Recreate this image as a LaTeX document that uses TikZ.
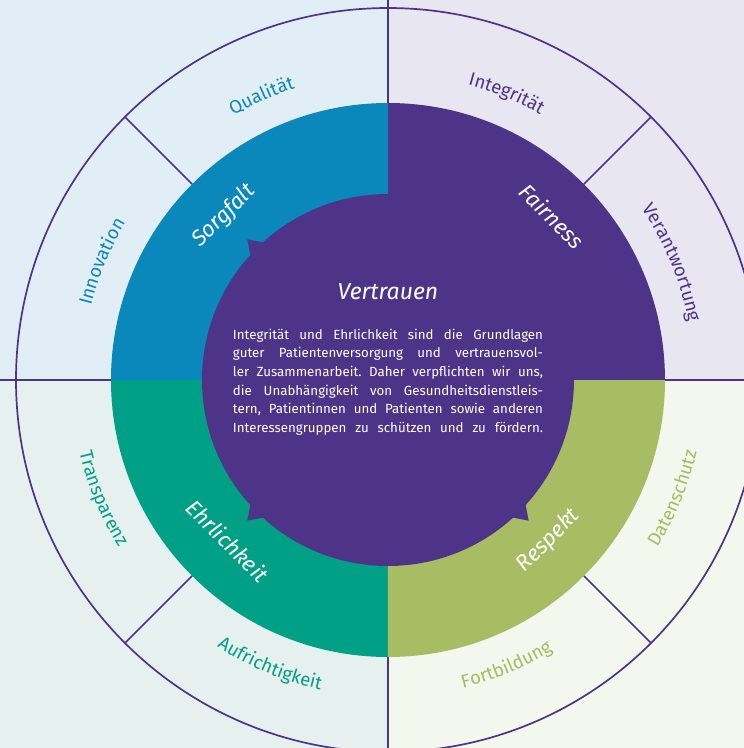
\documentclass[tikz,border=0pt]{standalone}
\usepackage{fontspec}
\setmainfont{Fira Sans}
\usetikzlibrary{decorations.text}
\frenchspacing
\definecolor{cPurple}{HTML}{4E3489}
\definecolor{cBlue}{HTML}{0A87BB}
\definecolor{cTeal}{HTML}{00A086}
\definecolor{cGreen}{HTML}{A7BC63}
\definecolor{bgTL}{HTML}{E1EEF6}
\definecolor{bgTR}{HTML}{E7E6F1}
\definecolor{bgBL}{HTML}{E6F0EE}
\definecolor{bgBR}{HTML}{F3F7EE}
\newcommand{\outerfont}{\fontsize{18.5}{20}\selectfont}
\begin{document}
\begin{tikzpicture}[
  divider/.style={draw=cPurple, line width=1.7pt},
  ringlabel/.style={text=white, font=\fontsize{22}{25}\selectfont\itshape, inner sep=0pt},
]
\useasboundingbox (-388pt,-368pt) rectangle (356pt,380pt);
% quadrant backgrounds
\fill[bgTL] (-388pt,0pt) rectangle (0pt,380pt);
\fill[bgTR] (0pt,0pt) rectangle (356pt,380pt);
\fill[bgBL] (-388pt,-368pt) rectangle (0pt,0pt);
\fill[bgBR] (0pt,-368pt) rectangle (356pt,0pt);
% dividers and outer circle
\draw[divider] (0pt,380pt) -- (0pt,-368pt);
\draw[divider] (-388pt,0pt) -- (356pt,0pt);
\draw[divider] (0pt,0pt) circle (372pt);
\foreach \a in {45,135,225,315} \draw[divider] (\a:277pt) -- (\a:372pt);
% coloured ring
\fill[cPurple] (0pt,0pt) -- (0:277pt) arc (0:90:277pt) -- cycle;
\fill[cBlue] (0pt,0pt) -- (90:277pt) arc (90:180:277pt) -- cycle;
\fill[cTeal] (0pt,0pt) -- (180:277pt) arc (180:270:277pt) -- cycle;
\fill[cGreen] (0pt,0pt) -- (270:277pt) arc (270:360:277pt) -- cycle;
% inner circle with pointers
\fill[cPurple] (0pt,0pt) circle (186pt);
\foreach \a in {45,135,225,315}
  \fill[cPurple] ({\a-3.2}:184pt) -- (\a:199pt) -- ({\a+3.2}:184pt) -- cycle;
% ring labels
\node[ringlabel, rotate=45] (sorgfalt) at (135:232pt) {Sorgfalt};
\node[ringlabel, rotate=-45] (fairness) at (45:232pt) {Fairness};
\node[ringlabel, rotate=-45] (ehrlichkeit) at (225:227pt) {Ehrlichkeit};
\node[ringlabel, rotate=45] (respekt) at (315:227pt) {Respekt};
% outer labels (top half: clockwise, bottom half: counter-clockwise)
\path[decorate, decoration={text along path, text align=center, text={|\outerfont\color{cBlue}|Qualität}}] (140:306pt) arc (140:88:306pt);
\path[decorate, decoration={text along path, text align=center, text={|\outerfont\color{cBlue}|Innovation}}] (185:306pt) arc (185:130:306pt);
\path[decorate, decoration={text along path, text align=center, text={|\outerfont\color{cPurple}|Integrität}}] (95:306pt) arc (95:40:306pt);
\path[decorate, decoration={text along path, text align=center, text={|\outerfont\color{cPurple}|Verantwortung}}] (55:306pt) arc (55:-10:306pt);
\path[decorate, decoration={text along path, text align=center, text={|\outerfont\color{cTeal}|Transparenz}}] (170:317pt) arc (170:235:317pt);
\path[decorate, decoration={text along path, text align=center, text={|\outerfont\color{cTeal}|Aufrichtigkeit}}] (215:317pt) arc (215:280:317pt);
\path[decorate, decoration={text along path, text align=center, text={|\outerfont\color{cGreen}|Datenschutz}}] (305:317pt) arc (305:370:317pt);
\path[decorate, decoration={text along path, text align=center, text={|\outerfont\color{cGreen}|Fortbildung}}] (260:317pt) arc (260:325:317pt);
% centre text
\node[text=white, font=\fontsize{23}{26}\selectfont\itshape, inner sep=0pt] (title) at (0pt,88pt) {Vertrauen};
\node[text=white, font=\fontsize{13.3}{18.7}\selectfont, align=center, inner sep=0pt] (body) at (0pt,-2pt) {%
\makebox[310pt][s]{Integrität und Ehrlichkeit sind die Grundlagen}\\
\makebox[310pt][s]{guter Patientenversorgung und vertrauensvol-}\\
\makebox[310pt][s]{ler Zusammenarbeit. Daher verpflichten wir uns,}\\
\makebox[310pt][s]{die Unabhängigkeit von Gesundheitsdienstleis-}\\
\makebox[310pt][s]{tern, Patientinnen und Patienten sowie anderen}\\
\makebox[310pt][s]{Interessengruppen zu schützen und zu fördern.}};
\end{tikzpicture}
\end{document}
